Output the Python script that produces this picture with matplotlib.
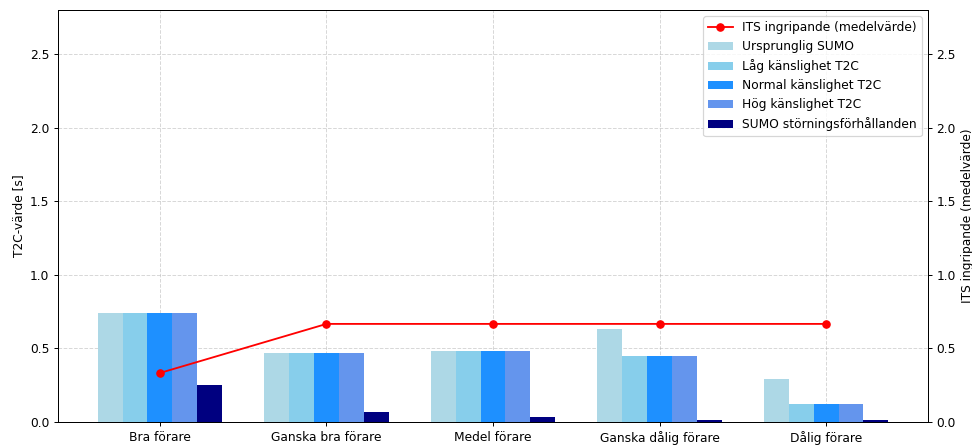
import matplotlib
matplotlib.use("Agg")
import matplotlib.pyplot as plt
import numpy as np

categories = ["Bra förare", "Ganska bra förare", "Medel förare", "Ganska dålig förare", "Dålig förare"]

ursprunglig_sumo = [0.74, 0.47, 0.48, 0.63, 0.29]
lag_kanslighet = [0.74, 0.47, 0.48, 0.45, 0.12]
normal_kanslighet = [0.74, 0.47, 0.48, 0.45, 0.12]
hog_kanslighet = [0.74, 0.47, 0.48, 0.45, 0.12]
sumo_storning = [0.25, 0.07, 0.035, 0.013, 0.013]
its_ingripande = [1/3, 2/3, 2/3, 2/3, 2/3]

series = [
    ("Ursprunglig SUMO", ursprunglig_sumo, "lightblue"),
    ("Låg känslighet T2C", lag_kanslighet, "skyblue"),
    ("Normal känslighet T2C", normal_kanslighet, "dodgerblue"),
    ("Hög känslighet T2C", hog_kanslighet, "cornflowerblue"),
    ("SUMO störningsförhållanden", sumo_storning, "navy"),
]

DPI = 88
fig, ax = plt.subplots(figsize=(972 / DPI, 446 / DPI), dpi=DPI)
x = np.arange(len(categories))
w = 0.15
bar_handles = []
for i, (label, vals, color) in enumerate(series):
    b = ax.bar(x + (i - 2) * w, vals, w, label=label, color=color)
    bar_handles.append(b)

ax.set_ylabel("T2C-värde [s]")
ax.set_ylim(0, 2.8)
ax.set_xticks(x)
ax.set_xticklabels(categories)
ax.grid(True, linestyle="--", alpha=0.5)
ax.set_axisbelow(True)

ax2 = ax.twinx()
line, = ax2.plot(x, its_ingripande, color="red", marker="o", label="ITS ingripande (medelvärde)")
ax2.set_ylim(0, 2.8)
ax2.set_ylabel("ITS ingripande (medelvärde)")

ax2.legend([line] + bar_handles, [line.get_label()] + [s[0] for s in series], loc="upper right")

fig.subplots_adjust(left=58 / 972, right=928 / 972, top=1 - 10 / 446, bottom=1 - 422 / 446)
fig.savefig("out.png", dpi=DPI)
